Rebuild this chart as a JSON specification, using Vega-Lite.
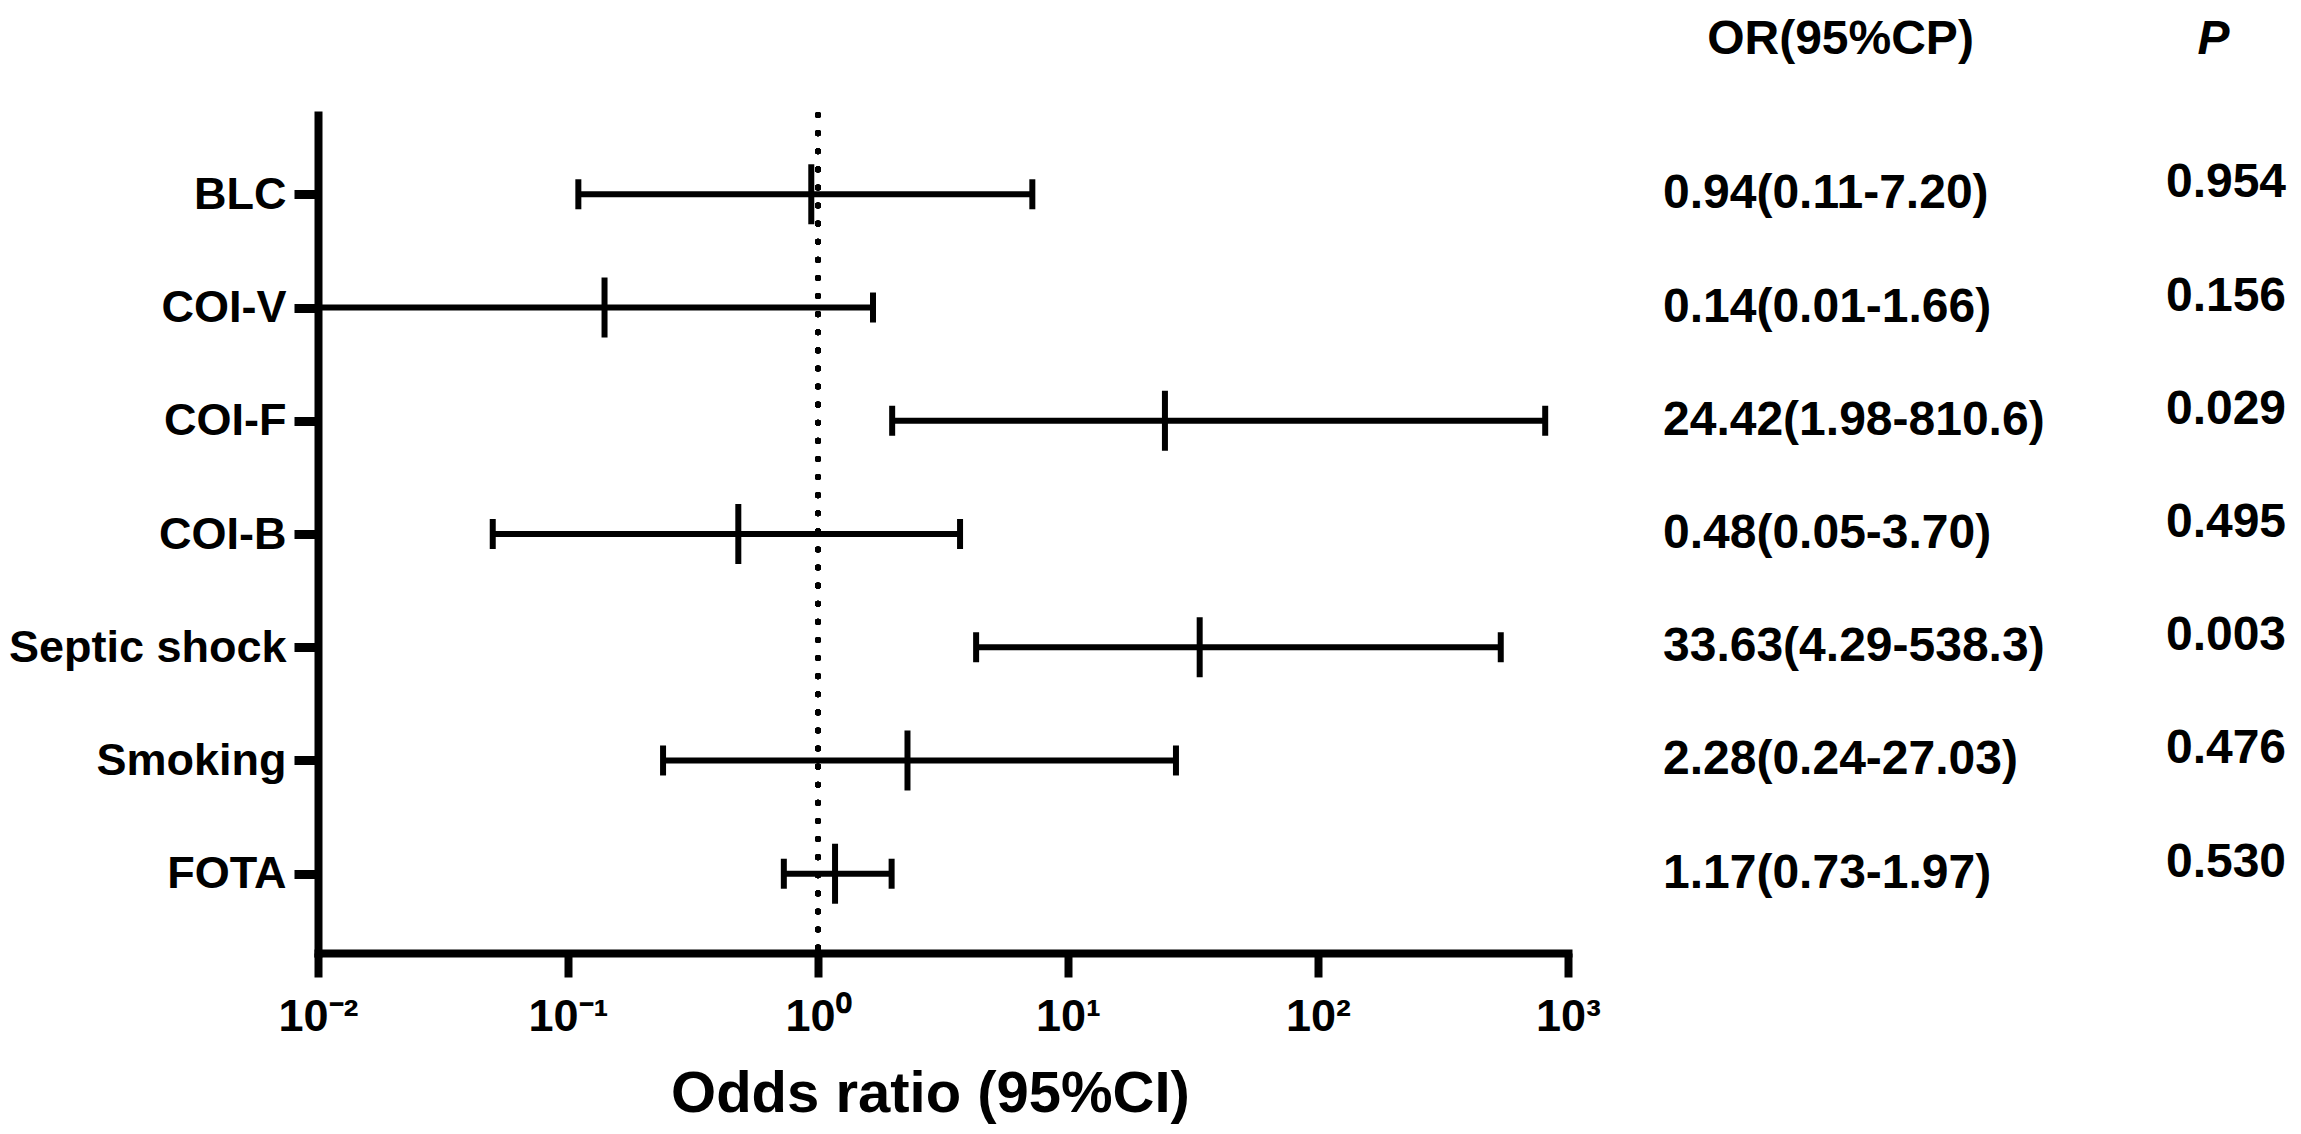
{
  "$schema": "https://vega.github.io/schema/vega-lite/v6.json",
  "width": 1250,
  "height": 838,
  "autosize": "none",
  "padding": {"left": 318, "top": 115, "right": 733, "bottom": 181},
  "background": "white",
  "config": {"view": {"stroke": null}, "font": "Liberation Sans"},
  "data": {
    "values": [
      {"factor": "BLC", "or": 0.94, "lo": 0.11, "hi": 7.20, "ortext": "0.94(0.11-7.20)", "p": "0.954"},
      {"factor": "COI-V", "or": 0.14, "lo": 0.01, "hi": 1.66, "ortext": "0.14(0.01-1.66)", "p": "0.156"},
      {"factor": "COI-F", "or": 24.42, "lo": 1.98, "hi": 810.6, "ortext": "24.42(1.98-810.6)", "p": "0.029"},
      {"factor": "COI-B", "or": 0.48, "lo": 0.05, "hi": 3.70, "ortext": "0.48(0.05-3.70)", "p": "0.495"},
      {"factor": "Septic shock", "or": 33.63, "lo": 4.29, "hi": 538.3, "ortext": "33.63(4.29-538.3)", "p": "0.003"},
      {"factor": "Smoking", "or": 2.28, "lo": 0.24, "hi": 27.03, "ortext": "2.28(0.24-27.03)", "p": "0.476"},
      {"factor": "FOTA", "or": 1.17, "lo": 0.73, "hi": 1.97, "ortext": "1.17(0.73-1.97)", "p": "0.530"}
    ]
  },
  "layer": [
    {
      "layer": [
        {
          "mark": {"type": "rule", "color": "black", "strokeWidth": 6, "strokeDash": [0.1, 18], "strokeCap": "round"},
          "encoding": {
            "x": {"datum": 1, "type": "quantitative"}
          }
        },
        {
          "mark": {"type": "rule", "color": "black", "strokeWidth": 6, "opacity": 1},
          "encoding": {
            "x": {
              "field": "lo", "type": "quantitative",
              "scale": {"type": "log", "domain": [0.01, 1000], "nice": false},
              "axis": {
                "values": [0.01, 0.1, 1, 10, 100, 1000],
                "labelExpr": "'10' + ['⁻²','⁻¹','⁰','¹','²','³'][round(log(datum.value)/LN10)+2]",
                "labelFontSize": 45, "labelFontWeight": "bold", "labelColor": "black",
                "labelPadding": 17, "labelFlush": false, "labelOverlap": false, "labelLimit": 0,
                "tickSize": 24, "tickWidth": 8, "tickColor": "black",
                "domainColor": "black", "domainWidth": 8, "domainCap": "square",
                "grid": false,
                "title": "Odds ratio (95%CI)", "titleFontSize": 58, "titleFontWeight": "bold",
                "titleColor": "black", "titlePadding": 26, "titleX": 612, "titleAlign": "center"
              }
            },
            "x2": {"field": "hi"},
            "y": {
              "field": "factor", "type": "nominal",
              "scale": {"type": "point", "padding": 0.7, "domain": ["BLC", "COI-V", "COI-F", "COI-B", "Septic shock", "Smoking", "FOTA"]},
              "axis": {
                "title": null, "labelFontSize": 45, "labelFontWeight": "bold", "labelColor": "black",
                "labelPadding": 8, "labelLimit": 0, "tickSize": 24, "tickWidth": 9, "tickColor": "black",
                "domainColor": "black", "domainWidth": 8, "domainCap": "square", "grid": false
              }
            }
          }
        },
        {
          "mark": {"type": "tick", "color": "black", "opacity": 1, "size": 30, "thickness": 6, "orient": "vertical"},
          "encoding": {
            "x": {"field": "lo", "type": "quantitative"},
            "y": {"field": "factor", "type": "nominal"}
          }
        },
        {
          "mark": {"type": "tick", "color": "black", "opacity": 1, "size": 30, "thickness": 6, "orient": "vertical"},
          "encoding": {
            "x": {"field": "hi", "type": "quantitative"},
            "y": {"field": "factor", "type": "nominal"}
          }
        },
        {
          "mark": {"type": "tick", "color": "black", "opacity": 1, "size": 60, "thickness": 6, "orient": "vertical"},
          "encoding": {
            "x": {"field": "or", "type": "quantitative"},
            "y": {"field": "factor", "type": "nominal"}
          }
        }
      ]
    },
    {
      "layer": [
        {
          "mark": {"type": "text", "align": "left", "baseline": "middle", "dx": -177, "dy": 0, "fontSize": 48, "fontWeight": "bold", "color": "black"},
          "encoding": {
            "x": {
              "datum": "OR(95%CP)", "type": "nominal",
              "scale": {"type": "point", "domain": ["OR(95%CP)", "P"], "range": [1522, 1895], "padding": 0},
              "axis": {
                "orient": "top", "title": null, "domain": false, "ticks": false, "tickSize": 0,
                "labelAngle": 0, "labelFontSize": 48, "labelFontWeight": "bold", "labelColor": "black",
                "labelFontStyle": {"condition": {"test": "datum.value === 'P'", "value": "italic"}, "value": "normal"},
                "labelPadding": 52, "labelLimit": 0
              }
            },
            "y": {"field": "factor", "type": "nominal"},
            "text": {"field": "ortext"}
          }
        },
        {
          "mark": {"type": "text", "align": "center", "baseline": "middle", "dx": 13, "dy": -11, "fontSize": 48, "fontWeight": "bold", "color": "black"},
          "encoding": {
            "x": {"datum": "P", "type": "nominal"},
            "y": {"field": "factor", "type": "nominal"},
            "text": {"field": "p"}
          }
        }
      ]
    }
  ],
  "resolve": {"scale": {"x": "independent"}}
}
